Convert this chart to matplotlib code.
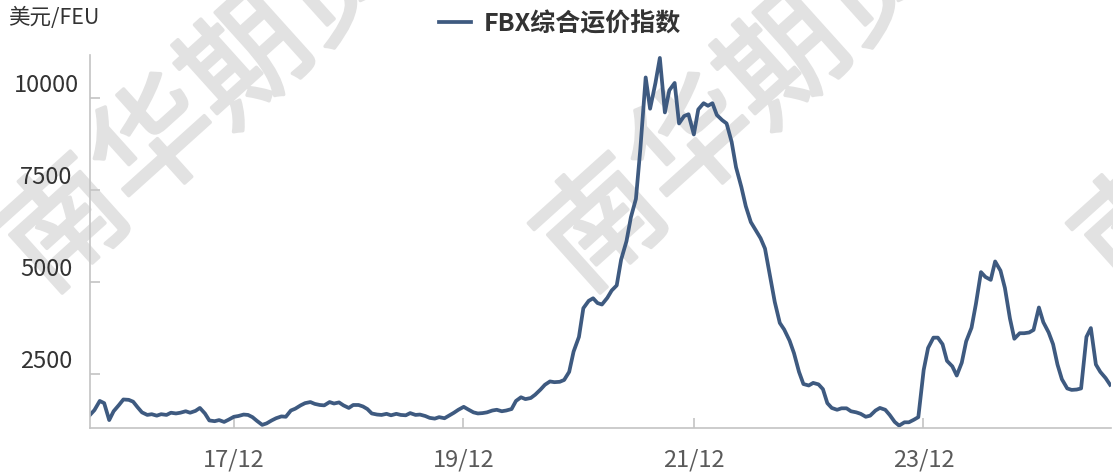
import pandas as pd
import matplotlib
matplotlib.use('Agg')
import matplotlib.pyplot as plt
import matplotlib.patheffects as pe
from matplotlib.transforms import ScaledTranslation

plt.rcParams['font.family'] = ['Noto Sans CJK SC', 'DejaVu Sans']

# FBX composite index, semi-monthly readings (1st / 15th), USD per FEU
start = '2016-10-01'
values = [
    1380, 1510, 1760, 1700, 1240, 1480, 1650, 1800, 1790, 1740, 1590, 1450,
    1380, 1400, 1360, 1400, 1380, 1440, 1420, 1440, 1480, 1440, 1490, 1570,
    1420, 1230, 1210, 1240, 1190, 1250, 1330, 1350, 1390, 1380, 1320, 1220,
    1110, 1150, 1230, 1290, 1340, 1330, 1500, 1550, 1640, 1700, 1730, 1680,
    1650, 1640, 1730, 1690, 1720, 1640, 1570, 1650, 1650, 1610, 1540, 1420,
    1390, 1380, 1410, 1370, 1410, 1380, 1370, 1430, 1380, 1390, 1350, 1300,
    1280, 1320, 1290, 1360, 1440, 1520, 1600, 1530, 1450, 1420, 1430, 1450,
    1500, 1520, 1480, 1500, 1540, 1760, 1860, 1810, 1840, 1930, 2070, 2200,
    2290, 2270, 2280, 2330, 2550, 3100, 3500, 4280, 4480, 4550, 4420, 4380,
    4560, 4760, 4900, 5600, 6100, 6750, 7250, 8600, 10550, 9700, 10400, 11080,
    9600, 10200, 10400, 9300, 9500, 9550, 9000, 9680, 9850, 9780, 9850, 9530,
    9390, 9300, 8800, 8110, 7570, 7050, 6620, 6420, 6180, 5900, 5100, 4450,
    3880, 3700, 3400, 3060, 2550, 2220, 2180, 2250, 2210, 2080, 1700, 1570,
    1520, 1560, 1560, 1480, 1450, 1410, 1330, 1360, 1500, 1570, 1520, 1380,
    1190, 1090, 1180, 1180, 1250, 1320, 2600, 3200, 3480, 3480, 3300, 2850,
    2700, 2450, 2800, 3380, 3750, 4400, 5260, 5130, 5050, 5550, 5300, 4830,
    4000, 3450, 3600, 3600, 3620, 3690, 4300, 3900, 3620, 3300, 2750, 2350,
    2100, 2060, 2070, 2100, 3500, 3740, 2750, 2550, 2380, 2200,
]
dates = pd.date_range(start, periods=len(values), freq='SMS')

tick_dates = pd.to_datetime(['2017-12-31', '2019-12-31', '2021-12-31', '2023-12-31'])
tick_labels = ['17/12', '19/12', '21/12', '23/12']
y_ticks = [2500, 5000, 7500, 10000]

unit = '美元/FEU'
series_name = 'FBX综合运价指数'
watermark = '南华期货'

W, H = 1113, 473
fig = plt.figure(figsize=(W / 100, H / 100), dpi=100)
ax = fig.add_axes([90 / W, (H - 427.7) / H, 1021 / W, 372.7 / H])
ax.patch.set_alpha(0)

# watermark behind everything
wm_col = '#e2e2e2'
for cx in [204, 742, 1280]:
    fig.text(cx / W, 1 - 106 / H, watermark, rotation=42, rotation_mode='anchor',
             ha='center', va='center', fontsize=88, color=wm_col, zorder=-5,
             path_effects=[pe.withStroke(linewidth=2.5, foreground=wm_col)])

line, = ax.plot(dates, values, color='#3e5a80', lw=2.7, solid_joinstyle='round',
                label=series_name)

ax.set_xlim(pd.Timestamp('2016-10-01'), pd.Timestamp('2025-08-18'))
ax.set_ylim(1033, 11160)

for s in ['top', 'right']:
    ax.spines[s].set_visible(False)
for s in ['left', 'bottom']:
    ax.spines[s].set_color('#c4c4c4')
    ax.spines[s].set_linewidth(1.2)

ax.tick_params(direction='in', length=7.5, width=1.2, color='#c4c4c4')
ax.set_xticks(tick_dates, tick_labels)
ax.tick_params(axis='x', pad=15, labelsize=17, labelcolor='#5a5a5a')
ax.set_yticks(y_ticks, [''] * len(y_ticks))

# y labels sit above their ticks, centred
ylab_tr = ax.get_yaxis_transform() + ScaledTranslation(0, 12 / 100, fig.dpi_scale_trans)
for v in y_ticks:
    ax.text(-44 / 1021, v, str(v), transform=ylab_tr, ha='center', va='center',
            fontsize=17, color='#333333', clip_on=False)

fig.text(8 / W, 1 - 18 / H, unit, ha='left', va='center', fontsize=15.5, color='#333333')

fig.legend(handles=[line], loc='center', bbox_to_anchor=(560 / W, 1 - 24 / H),
           frameon=False, handlelength=1.3, handletextpad=0.5,
           prop={'weight': 'bold', 'size': 18}, labelcolor='#333333')

fig.savefig('out.png', dpi=100)
